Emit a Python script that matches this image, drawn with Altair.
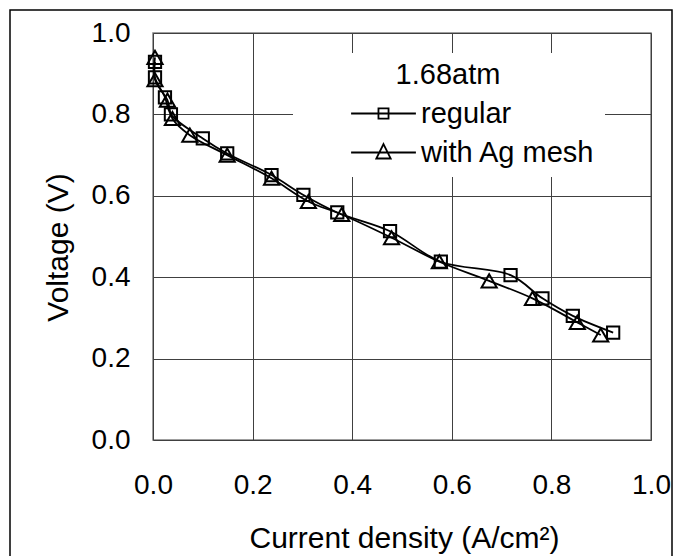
import altair as alt
import pandas as pd

# ---- data ----
series_names = ["regular", "with Ag mesh"]

reg_j = [0.004, 0.004, 0.024, 0.036, 0.100, 0.149, 0.238, 0.302, 0.370, 0.476,
         0.578, 0.718, 0.782, 0.843, 0.924]
reg_v = [0.929, 0.891, 0.842, 0.800, 0.741, 0.704, 0.651, 0.602, 0.559, 0.513,
         0.438, 0.405, 0.348, 0.305, 0.264]

ag_j = [0.004, 0.004, 0.029, 0.039, 0.074, 0.149, 0.238, 0.312, 0.379, 0.479,
        0.575, 0.675, 0.762, 0.852, 0.899]
ag_v = [0.940, 0.885, 0.835, 0.790, 0.749, 0.700, 0.643, 0.586, 0.554, 0.497,
        0.438, 0.391, 0.348, 0.289, 0.258]

x_ticks = [0.0, 0.2, 0.4, 0.6, 0.8, 1.0]
y_ticks = [0.0, 0.2, 0.4, 0.6, 0.8, 1.0]

legend_title = "1.68atm"
x_title = "Current density (A/cm\u00b2)"
y_title = "Voltage (V)"

rows = []
for i, (j, v) in enumerate(zip(reg_j, reg_v)):
    rows.append({"series": series_names[0], "j": j, "v": v, "i": i})
for i, (j, v) in enumerate(zip(ag_j, ag_v)):
    rows.append({"series": series_names[1], "j": j, "v": v, "i": i})
df = pd.DataFrame(rows)

FONT = "Liberation Sans"
FS_TICK = 28
FS_TITLE = 30
FS_LEG = 29

xs = alt.Scale(domain=[0, 1], nice=False, zero=False)
ys = alt.Scale(domain=[0, 1], nice=False, zero=False)

x_enc = alt.X(
    "j:Q", scale=xs,
    axis=alt.Axis(values=x_ticks, format=".1f", title=x_title, grid=True,
                  ticks=False, tickSize=0, domain=False, labelPadding=31,
                  labelFlush=False, titleX=251, titleY=107,
                  titleBaseline="alphabetic", titleAlign="center",
                  titleAnchor="middle"))
y_enc = alt.Y(
    "v:Q", scale=ys,
    axis=alt.Axis(values=y_ticks, format=".1f", title=y_title, grid=True,
                  ticks=False, tickSize=0, domain=False, labelPadding=23,
                  labelFlush=False, titleX=-86, titleY=214, titleAngle=270,
                  titleBaseline="alphabetic", titleAlign="center",
                  titleAnchor="middle"))

base = alt.Chart(df)

lines = base.mark_line(interpolate="catmull-rom", color="black",
                       strokeWidth=1.8, clip=False).encode(
    x=x_enc, y=y_enc, detail="series:N", order="i:Q")

points = base.mark_point(filled=False, color="black", strokeWidth=2,
                         opacity=1, clip=False).encode(
    x=x_enc, y=y_enc,
    shape=alt.Shape("series:N",
                    scale=alt.Scale(domain=series_names,
                                    range=["square", "triangle-up"]),
                    legend=None),
    size=alt.Size("series:O",
                  scale=alt.Scale(domain=series_names, range=[150, 230]),
                  legend=None))

# legend-only layer: symbols are a line segment with the series marker
sq_path = "M-2.7,0H2.7M-0.42,-0.42H0.42V0.42H-0.42Z"
tri_path = "M-2.7,0H2.7M0,-0.7L0.6,0.5H-0.6Z"

legend_layer = base.mark_point(filled=False, color="black", opacity=1,
                               strokeWidth=1.8).encode(
    x=x_enc, y=y_enc,
    shape=alt.Shape("series:N",
                    scale=alt.Scale(domain=series_names,
                                    range=[sq_path, tri_path]),
                    legend=alt.Legend(
                        title=legend_title, orient="none",
                        legendX=140, legendY=20, padding=8,
                        fillColor="white", strokeColor="white",
                        symbolSize=576, symbolOffset=68, labelOffset=23,
                        symbolStrokeColor="black", symbolStrokeWidth=1.8,
                        symbolFillColor="transparent", symbolOpacity=1,
                        labelFont=FONT, labelFontSize=FS_LEG,
                        labelColor="black", labelLimit=500, rowPadding=9,
                        labelExpr="datum.label + '     '",
                        titleFont=FONT, titleFontSize=FS_LEG,
                        titleColor="black", titleFontWeight="normal",
                        titleAnchor="middle", titlePadding=9,
                        titleLimit=500))
).transform_filter("datum.j < 0")

border = alt.Chart(alt.Data(values=[{}])).mark_rect(
    fill="transparent", stroke="black", strokeWidth=1.5, clip=False
).encode(x=alt.value(-143), x2=alt.value(519),
         y=alt.value(-23), y2=alt.value(600))

chart = alt.layer(border, lines, points, legend_layer).resolve_scale(
    shape="independent", size="independent"
).resolve_legend(shape="independent").properties(
    width=498, height=407,
    autosize=alt.AutoSizeParams(type="none"),
    padding={"left": 153, "top": 33, "right": 23, "bottom": 116},
).configure(font=FONT).configure_view(
    stroke="#808080", strokeWidth=1.5
).configure_axis(
    gridColor="#404040", gridWidth=1, gridOpacity=1,
    labelFont=FONT, labelFontSize=FS_TICK, labelColor="black",
    titleFont=FONT, titleFontSize=FS_TITLE, titleColor="black",
    titleFontWeight="normal"
)

chart.save("out.html", embed_options={"renderer": "svg", "actions": False})
